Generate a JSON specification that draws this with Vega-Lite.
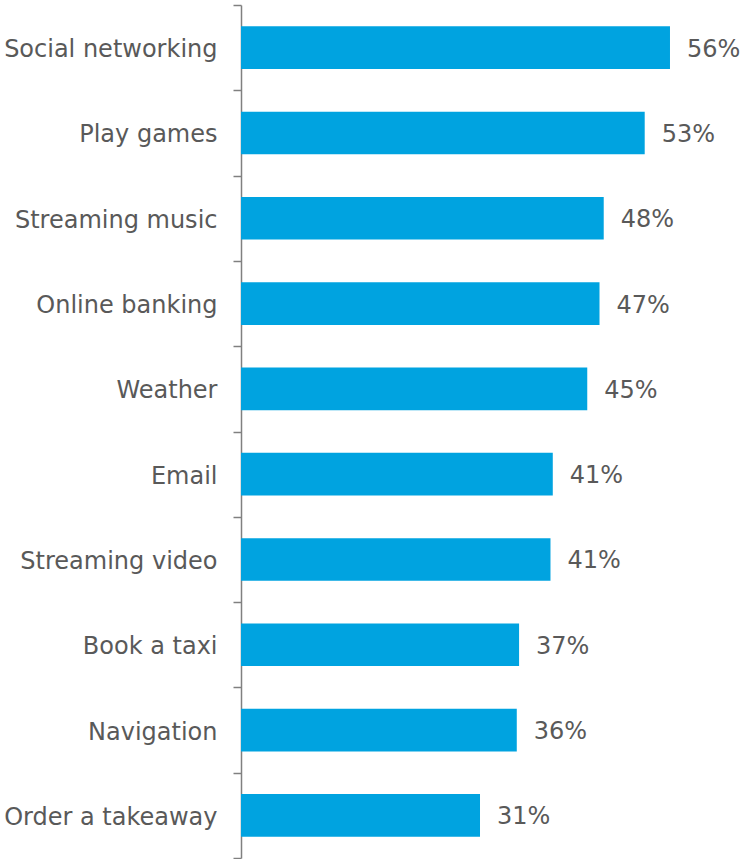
{
  "$schema": "https://vega.github.io/schema/vega-lite/v6.json",
  "width": 500,
  "height": 853,
  "autosize": {"type": "none"},
  "padding": {"left": 241, "top": 5, "right": 2, "bottom": 1},
  "background": "white",
  "config": {"view": {"stroke": null}, "font": "DejaVu Sans"},
  "data": {
    "values": [
      {"activity": "Social networking", "value": 56.0, "label": "56%"},
      {"activity": "Play games", "value": 52.7, "label": "53%"},
      {"activity": "Streaming music", "value": 47.35, "label": "48%"},
      {"activity": "Online banking", "value": 46.8, "label": "47%"},
      {"activity": "Weather", "value": 45.2, "label": "45%"},
      {"activity": "Email", "value": 40.7, "label": "41%"},
      {"activity": "Streaming video", "value": 40.4, "label": "41%"},
      {"activity": "Book a taxi", "value": 36.3, "label": "37%"},
      {"activity": "Navigation", "value": 36.0, "label": "36%"},
      {"activity": "Order a takeaway", "value": 31.2, "label": "31%"}
    ]
  },
  "encoding": {
    "y": {
      "field": "activity",
      "type": "nominal",
      "sort": null,
      "scale": {"paddingInner": 0, "paddingOuter": 0},
      "axis": {
        "title": null,
        "domainColor": "#808080",
        "domainWidth": 1.5,
        "tickColor": "#808080",
        "tickWidth": 1.5,
        "tickSize": 8,
        "tickBand": "extent",
        "labelFontSize": 24,
        "labelColor": "#595959",
        "labelPadding": 16,
        "labelLimit": 0,
        "labelOffset": 2,
        "labelFont": "DejaVu Sans"
      }
    },
    "x": {
      "field": "value",
      "type": "quantitative",
      "scale": {"domain": [0, 65.27], "nice": false},
      "axis": null
    }
  },
  "layer": [
    {"mark": {"type": "bar", "color": "#00A3E0", "height": {"band": 0.5}}},
    {
      "mark": {"type": "text", "align": "left", "baseline": "middle", "dx": 17, "dy": 2, "fontSize": 24, "color": "#595959", "font": "DejaVu Sans"},
      "encoding": {"text": {"field": "label"}}
    }
  ]
}
